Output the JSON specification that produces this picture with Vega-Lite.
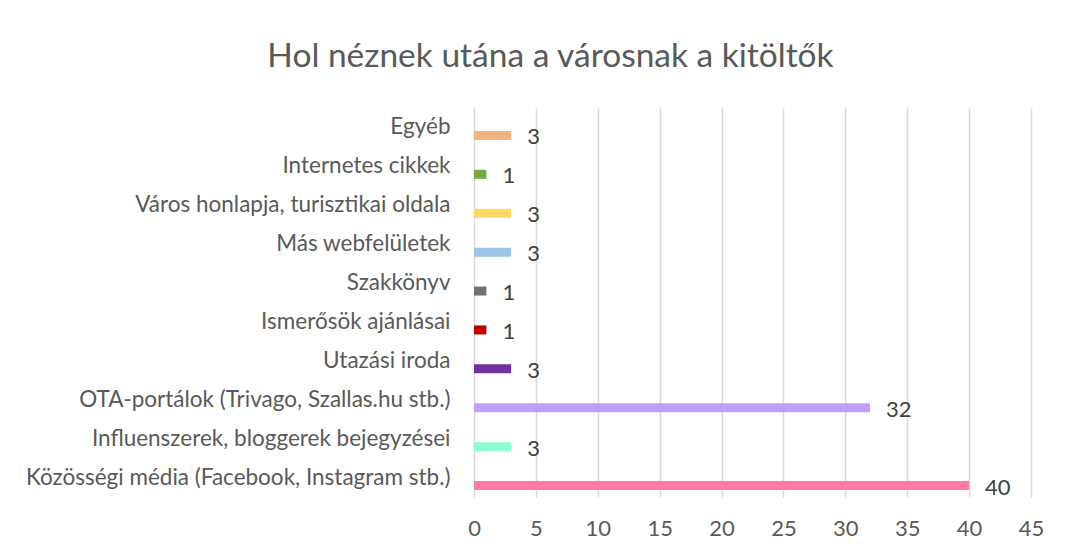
{
  "$schema": "https://vega.github.io/schema/vega-lite/v6.json",
  "width": 557,
  "height": 389,
  "autosize": {"type": "none"},
  "padding": {"left": 474, "top": 108, "right": 51, "bottom": 56},
  "background": "white",
  "title": {
    "text": "Hol néznek utána a városnak a kitöltők",
    "font": "Lato",
    "fontSize": 33.5,
    "fontWeight": "normal",
    "color": "#595959",
    "anchor": "middle",
    "dx": -202,
    "offset": 34
  },
  "data": {
    "values": [
      {"cat": "Egyéb", "v": 3},
      {"cat": "Internetes cikkek", "v": 1},
      {"cat": "Város honlapja, turisztikai oldala", "v": 3},
      {"cat": "Más webfelületek", "v": 3},
      {"cat": "Szakkönyv", "v": 1},
      {"cat": "Ismerősök ajánlásai", "v": 1},
      {"cat": "Utazási iroda", "v": 3},
      {"cat": "OTA-portálok (Trivago, Szallas.hu stb.)", "v": 32},
      {"cat": "Influenszerek, bloggerek bejegyzései", "v": 3},
      {"cat": "Közösségi média (Facebook, Instagram stb.)", "v": 40}
    ]
  },
  "encoding": {
    "y": {
      "field": "cat",
      "type": "nominal",
      "sort": null,
      "title": null,
      "scale": {"paddingInner": 0, "paddingOuter": 0},
      "axis": {
        "domain": false,
        "ticks": false,
        "grid": false,
        "labelFont": "Lato",
        "labelFontSize": 22.5,
        "labelColor": "#595959",
        "labelPadding": 24,
        "labelLimit": 500
      }
    },
    "x": {
      "field": "v",
      "type": "quantitative",
      "title": null,
      "scale": {"domain": [0, 45], "nice": false},
      "axis": {
        "values": [0, 5, 10, 15, 20, 25, 30, 35, 40, 45],
        "domain": false,
        "ticks": false,
        "grid": true,
        "gridColor": "#D9D9D9",
        "gridWidth": 1.5,
        "labelFlush": false,
        "labelFont": "Lato",
        "labelFontSize": 22,
        "labelColor": "#595959",
        "labelPadding": 21
      }
    }
  },
  "layer": [
    {
      "mark": {"type": "bar", "size": 9, "yOffset": 8},
      "encoding": {
        "color": {
          "field": "cat",
          "type": "nominal",
          "legend": null,
          "scale": {
            "domain": ["Egyéb", "Internetes cikkek", "Város honlapja, turisztikai oldala", "Más webfelületek", "Szakkönyv", "Ismerősök ajánlásai", "Utazási iroda", "OTA-portálok (Trivago, Szallas.hu stb.)", "Influenszerek, bloggerek bejegyzései", "Közösségi média (Facebook, Instagram stb.)"],
            "range": ["#F4B183", "#70AD47", "#FFD966", "#9DC3E6", "#767171", "#C00000", "#7030A0", "#BF9EFF", "#8AFFCF", "#FF7BA0"]
          }
        }
      }
    },
    {
      "mark": {"type": "text", "align": "left", "baseline": "middle", "dx": 16, "yOffset": 10, "font": "Lato", "fontSize": 22, "color": "#404040"},
      "encoding": {"text": {"field": "v", "type": "quantitative"}}
    }
  ],
  "config": {"view": {"stroke": null}}
}
